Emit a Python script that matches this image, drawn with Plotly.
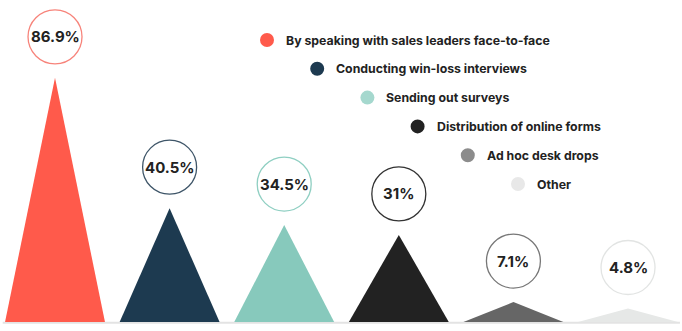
import plotly.graph_objects as go

categories = [
    "By speaking with sales leaders face-to-face",
    "Conducting win-loss interviews",
    "Sending out surveys",
    "Distribution of online forms",
    "Ad hoc desk drops",
    "Other",
]
values = [86.9, 40.5, 34.5, 31.0, 7.1, 4.8]
labels = ["86.9%", "40.5%", "34.5%", "31%", "7.1%", "4.8%"]
colors = ["#FF5A4B", "#1D3A50", "#87C9BC", "#222222", "#666666", "#E6E8E7"]
ring_colors = ["#F7837A", "#3E5568", "#8FCFC2", "#333333", "#777777", "#E2E4E3"]
dot_colors = ["#FF5A4B", "#1D3A50", "#A5D8CE", "#222222", "#8C8C8C", "#E8E8E8"]

FONT = "Inter, Open Sans, sans-serif"
half = 0.436

fig = go.Figure()

# triangles
for i, (cat, v, c) in enumerate(zip(categories, values, colors)):
    fig.add_trace(go.Scatter(
        x=[i - half, i, i + half, i - half],
        y=[0, v, 0, 0],
        fill="toself", fillcolor=c, mode="lines",
        line=dict(width=0, color=c), name=cat, showlegend=False,
        hoverinfo="name",
    ))

shapes = []
annotations = []

# baseline
shapes.append(dict(type="line", xref="paper", yref="y", x0=0.004, x1=0.997,
                   y0=-0.25, y1=-0.25, line=dict(color="#E3E3E3", width=2), layer="below"))

# value circles + labels
for i, (v, lab, rc) in enumerate(zip(values, labels, ring_colors)):
    shapes.append(dict(type="circle", xref="x", yref="y",
                       xsizemode="pixel", ysizemode="pixel",
                       xanchor=i, yanchor=v,
                       x0=-27, x1=27, y0=14, y1=68,
                       line=dict(color=rc, width=1.3), fillcolor="white", layer="above"))
    annotations.append(dict(x=i, y=v, xref="x", yref="y", text=lab,
                            showarrow=False, yshift=41, xanchor="center", yanchor="middle",
                            font=dict(family=FONT, size=15, color="#222222", weight=700)))

# custom staggered legend (pixel positions converted to paper)
W, H = 682, 331
for k, (cat, dc) in enumerate(zip(categories, dot_colors)):
    dx = 267 + 50.2 * k
    dy = 40 + 28.8 * k
    shapes.append(dict(type="circle", xref="paper", yref="paper",
                       xsizemode="pixel", ysizemode="pixel",
                       xanchor=dx / W, yanchor=1 - dy / H,
                       x0=-7, x1=7, y0=-7, y1=7,
                       line=dict(width=0), fillcolor=dc))
    annotations.append(dict(x=(dx + 17) / W, y=1 - dy / H, xref="paper", yref="paper",
                            text=cat, showarrow=False, xanchor="left", yanchor="middle",
                            font=dict(family=FONT, size=12.3, color="#222222", weight=700)))

fig.update_layout(
    width=W, height=H,
    margin=dict(l=0, r=0, t=0, b=0),
    paper_bgcolor="white", plot_bgcolor="white",
    xaxis=dict(range=[-0.48, 5.471], visible=False, fixedrange=True),
    yaxis=dict(range=[-3.2, 114.6], visible=False, fixedrange=True),
    shapes=shapes, annotations=annotations,
    showlegend=False,
)

fig.write_html("out.html")
